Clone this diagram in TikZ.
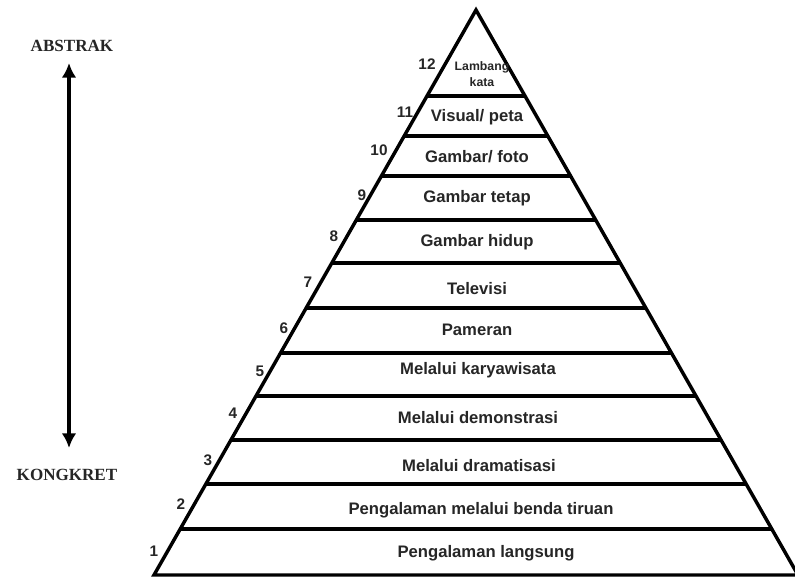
\documentclass[tikz,border=0pt]{standalone}
\usepackage{fontspec}
\setmainfont{Liberation Serif}
\newfontfamily\labelsans{Liberation Sans}
\usetikzlibrary{calc,arrows.meta}
\tikzset{
  edge/.style={line width=2.6pt, line join=miter},
  band/.style={font=\labelsans\bfseries\fontsize{12.5}{14}\selectfont, inner sep=0pt, text=black!85},
  small/.style={font=\labelsans\bfseries\fontsize{9.2}{11.5}\selectfont, inner sep=0pt, align=center, text=black!85},
  num/.style={font=\labelsans\bfseries\fontsize{11.5}{13}\selectfont, inner sep=0pt, text=black!85},
  pole/.style={font=\bfseries\fontsize{12.8}{14}\selectfont, inner sep=0pt, text=black!85},
  bigarrow/.style={line width=3pt, {Latex[length=11pt,width=11pt]}-{Latex[length=11pt,width=11pt]}}
}
\begin{document}
\begin{tikzpicture}[x=0.75pt,y=-0.75pt]
\useasboundingbox (0,0) rectangle (795,578);
\fill[white] (0,0) rectangle (795,578);
% pyramid corners
\coordinate (A) at (476,10);
\coordinate (BL) at (154,575);
\coordinate (BR) at (798,575);
\draw[edge] (A) -- (BL) -- (BR) -- cycle;
% horizontal dividers
\foreach \yy [count=\i] in {96,136,176,220,263,308,353,396,440,484,529}{
  \pgfmathsetmacro{\t}{(\yy-10)/565}
  \coordinate (L\i) at ($(A)!\t!(BL)$);
  \coordinate (R\i) at ($(A)!\t!(BR)$);
  \draw[edge] (L\i) -- (R\i);
}
% band texts
\node[small] (t12) at (482,74) {Lambang\\kata};
\node[band] (t11) at (477,117) {Visual/ peta};
\node[band] (t10) at (477,157) {Gambar/ foto};
\node[band] (t9) at (477,198) {Gambar tetap};
\node[band] (t8) at (477,242) {Gambar hidup};
\node[band] (t7) at (477,289) {Televisi};
\node[band] (t6) at (477,330) {Pameran};
\node[band] (t5) at (478,370) {Melalui karyawisata};
\node[band] (t4) at (478,418) {Melalui demonstrasi};
\node[band] (t3) at (479,466) {Melalui dramatisasi};
\node[band] (t2) at (481,510) {Pengalaman melalui benda tiruan};
\node[band] (t1) at (486,553) {Pengalaman langsung};
% numbers
\node[num] (n12) at (427,64) {12};
\node[num] (n11) at (405,112) {11};
\node[num] (n10) at (379,150) {10};
\node[num] (n9) at (362,195) {9};
\node[num] (n8) at (334,236) {8};
\node[num] (n7) at (308,282) {7};
\node[num] (n6) at (284,328) {6};
\node[num] (n5) at (260,371) {5};
\node[num] (n4) at (233,413) {4};
\node[num] (n3) at (208,460) {3};
\node[num] (n2) at (181,504) {2};
\node[num] (n1) at (154,551) {1};
% poles
\node[pole] (abs) at (72,46) {ABSTRAK};
\node[pole] (kon) at (67,475) {KONGKRET};
\coordinate (atop) at (69,63);
\coordinate (abot) at (69,448);
\draw[bigarrow] (abot) -- (atop);
\end{tikzpicture}
\end{document}
